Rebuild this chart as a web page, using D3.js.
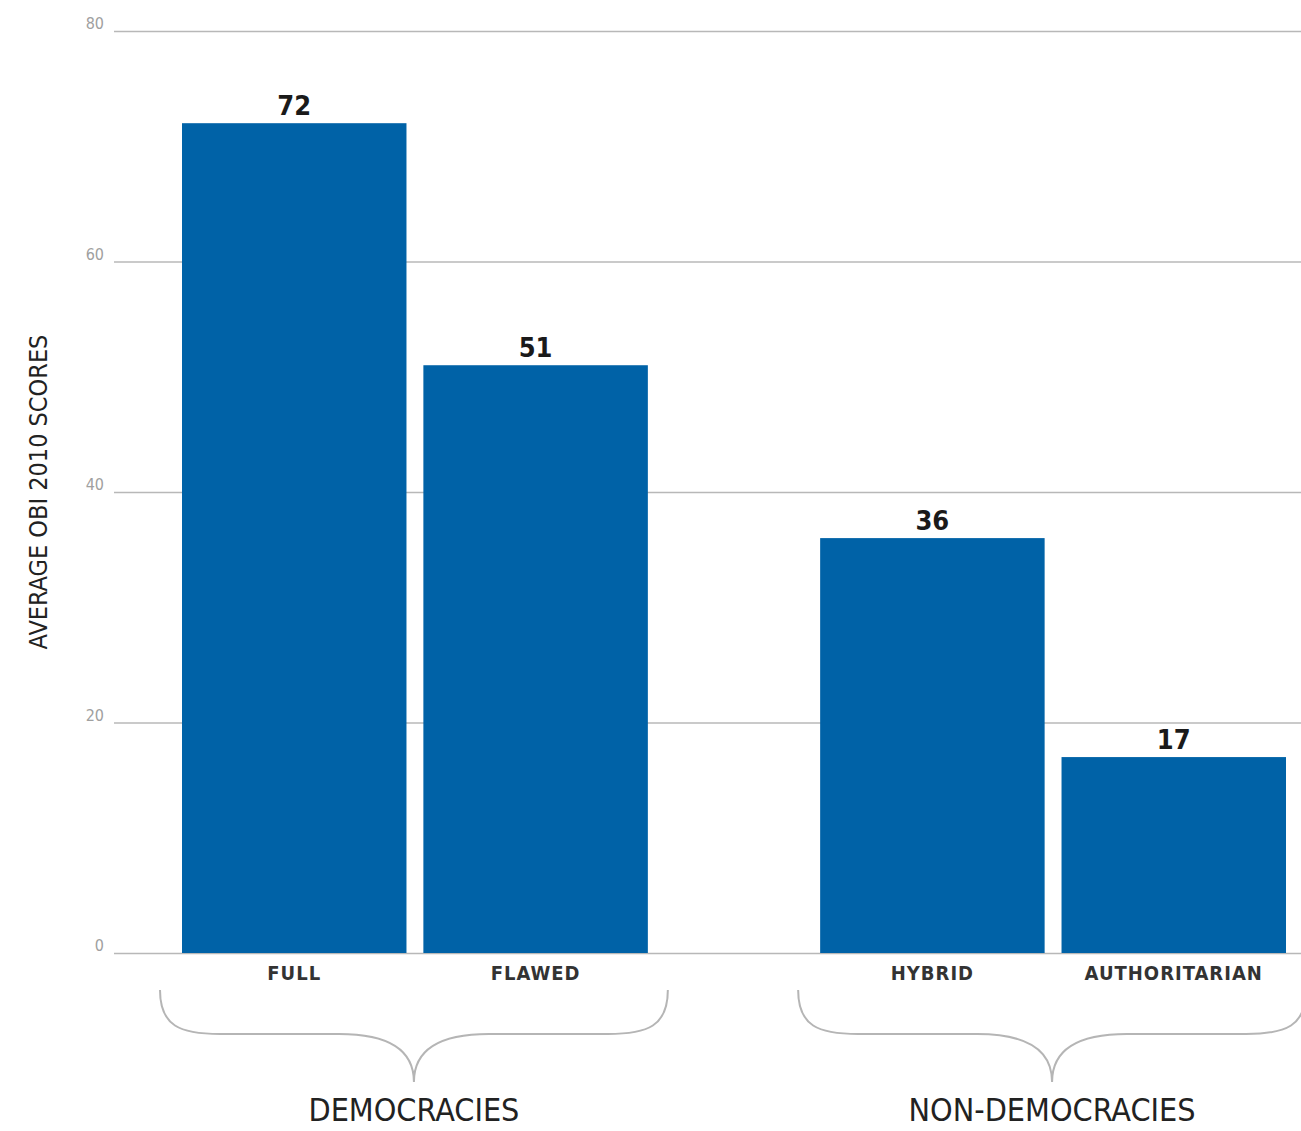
<!DOCTYPE html>
<html lang="en">
<head>
<meta charset="utf-8">
<script src="https://cdn.jsdelivr.net/npm/d3@7"></script>
<style>
    body { margin: 0; background: #fff; }
    text { font-family: "DejaVu Sans Condensed", "Liberation Sans Narrow", sans-serif; }
</style>
</head>
<body>
<script>
    // data
    let groups = ["DEMOCRACIES", "NON-DEMOCRACIES"];
    let categories = ["FULL", "FLAWED", "HYBRID", "AUTHORITARIAN"];
    let categoryGroup = ["DEMOCRACIES", "DEMOCRACIES", "NON-DEMOCRACIES", "NON-DEMOCRACIES"];
    let scores = [72, 51, 36, 17];
    let yTicks = [0, 20, 40, 60, 80];

    let w = 1301;
    let h = 1131;
    let plotTop = 31, plotBottom = 953;
    let gridLeft = 114;

    let svg = d3.select("body")
                .append("svg")
                .attr("width", w)
                .attr("height", h);

    let yScale = d3.scaleLinear()
                    .domain([0, 80])
                    .range([plotBottom, plotTop]);

    let outer = d3.scaleBand()
                    .domain(groups)
                    .range([182, 1286])
                    .paddingInner(0.27);

    let inner = d3.scaleBand()
                    .domain([0, 1])
                    .range([0, outer.bandwidth()])
                    .paddingInner(0.07);

    let bars = categories.map((c, i) => {
        let g = categoryGroup[i];
        let idx = categories.filter((d, j) => categoryGroup[j] == g).indexOf(c);
        return {name: c, group: g, value: scores[i], x: outer(g) + inner(idx)};
    });

    // grid lines + tick labels
    let yAxis = d3.axisLeft(yScale)
                    .tickValues(yTicks)
                    .tickSize(0)
                    .tickPadding(0);

    let ax = svg.append("g").call(yAxis);
    ax.select(".domain").remove();
    ax.selectAll(".tick line").remove();
    ax.selectAll(".tick").append("line")
        .attr("x1", gridLeft)
        .attr("x2", w)
        .attr("stroke", "#b8b8b8")
        .attr("stroke-width", 1.5);
    ax.selectAll(".tick text")
        .attr("x", 104)
        .attr("dy", "-0.15em")
        .attr("fill", "#a0a0a0")
        .style("font-family", "'DejaVu Sans Condensed', sans-serif")
        .style("font-size", "16px");

    // bars
    svg.selectAll("rect.bar")
        .data(bars)
        .enter()
        .append("rect")
        .attr("class", "bar")
        .attr("x", (d) => d.x)
        .attr("y", (d) => yScale(d.value))
        .attr("width", inner.bandwidth())
        .attr("height", (d) => yScale(0) - yScale(d.value))
        .attr("fill", "#0062a7");

    // value labels
    svg.selectAll("text.val")
        .data(bars)
        .enter()
        .append("text")
        .attr("class", "val")
        .attr("x", (d) => d.x + inner.bandwidth() / 2)
        .attr("y", (d) => yScale(d.value) - 8)
        .attr("text-anchor", "middle")
        .attr("fill", "#1a1a1a")
        .style("font-size", "27px")
        .style("font-weight", "bold")
        .text((d) => d.value);

    // category labels
    svg.selectAll("text.cat")
        .data(bars)
        .enter()
        .append("text")
        .attr("class", "cat")
        .attr("x", (d) => d.x + inner.bandwidth() / 2)
        .attr("y", plotBottom + 27)
        .attr("text-anchor", "middle")
        .attr("fill", "#333")
        .style("font-size", "20px")
        .style("letter-spacing", "1px")
        .style("font-weight", "bold")
        .text((d) => d.name);

    // curly braces under each group
    let brace = (x0, x1) => {
        let y0 = 990, ym = 1034, yt = 1082;
        let xm = (x0 + x1) / 2;
        return "M" + x0 + "," + y0 +
            " C" + x0 + "," + (ym - 8) + " " + (x0 + 20) + "," + ym + " " + (x0 + 60) + "," + ym +
            " L" + (xm - 75) + "," + ym +
            " C" + (xm - 22) + "," + ym + " " + xm + "," + (ym + 18) + " " + xm + "," + yt +
            " C" + xm + "," + (ym + 18) + " " + (xm + 22) + "," + ym + " " + (xm + 75) + "," + ym +
            " L" + (x1 - 60) + "," + ym +
            " C" + (x1 - 20) + "," + ym + " " + x1 + "," + (ym - 8) + " " + x1 + "," + y0;
    };

    svg.selectAll("path.brace")
        .data(groups)
        .enter()
        .append("path")
        .attr("class", "brace")
        .attr("d", (g) => brace(outer(g) - 22, outer(g) + outer.bandwidth() + 20))
        .attr("fill", "none")
        .attr("stroke", "#b5b5b5")
        .attr("stroke-width", 2);

    svg.selectAll("text.grp")
        .data(groups)
        .enter()
        .append("text")
        .attr("class", "grp")
        .attr("x", (g) => outer(g) + outer.bandwidth() / 2 - 1)
        .attr("y", 1121)
        .attr("text-anchor", "middle")
        .attr("fill", "#222")
        .style("font-size", "32px")
        .text((g) => g);

    // y axis title
    svg.append("text")
        .attr("transform", "translate(47," + 492 + ") rotate(-90)")
        .attr("text-anchor", "middle")
        .attr("fill", "#222")
        .style("font-size", "25px")
        .text("AVERAGE OBI 2010 SCORES");
</script>
</body>
</html>
